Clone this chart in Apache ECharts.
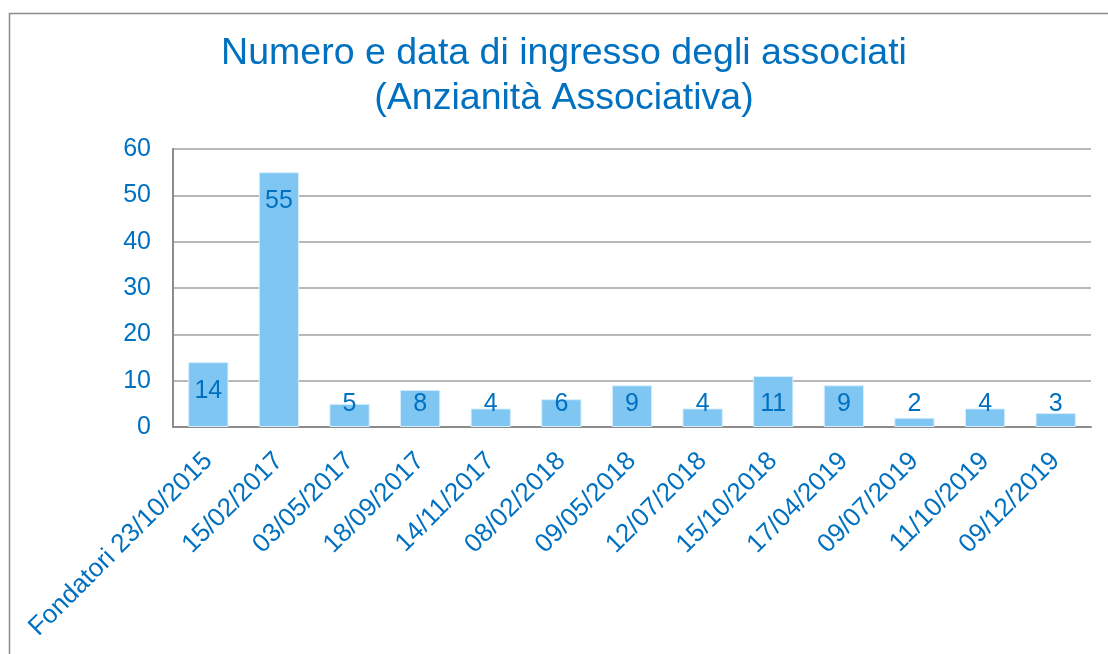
<!DOCTYPE html>
<html>
<head>
<meta charset="utf-8">
<script src="https://cdn.jsdelivr.net/npm/echarts@6/dist/echarts.min.js"></script>
<style>
html,body{margin:0;padding:0;background:#fff;}
#chart{width:1108px;height:654px;}
</style>
</head>
<body>
<div id="chart"></div>
<script>
const titleLines = ["Numero e data di ingresso degli associati", "(Anzianità Associativa)"];
const categories = ["Fondatori 23/10/2015","15/02/2017","03/05/2017","18/09/2017","14/11/2017","08/02/2018","09/05/2018","12/07/2018","15/10/2018","17/04/2019","09/07/2019","11/10/2019","09/12/2019"];
const values = [14, 55, 5, 8, 4, 6, 9, 4, 11, 9, 2, 4, 3];
const yTicks = [0, 10, 20, 30, 40, 50, 60];

const blue = '#0070C0';
const chart = echarts.init(document.getElementById('chart'));
const seriesData = values.map(v => ({
  value: v,
  label: v >= 12 ? { position: 'insideTop', distance: 16 } : { position: 'insideBottom', distance: 10 }
}));
chart.setOption({
  animation: false,
  textStyle: { fontFamily: 'Liberation Sans, Arial, sans-serif' },
  graphic: [{
    type: 'rect', left: 7, top: 11, shape: { width: 1200, height: 700 },
    style: { fill: 'none', stroke: '#8c8c8c', lineWidth: 1.5 }, silent: true, z: -1
  }],
  title: {
    text: titleLines.join('\n'),
    left: 564, textAlign: 'center', top: 31, padding: 0,
    textStyle: { color: blue, fontSize: 37.5, fontWeight: 'normal', lineHeight: 45, fontFamily: 'Liberation Sans, Arial, sans-serif' }
  },
  grid: { left: 173, right: 17, top: 149, bottom: 227, containLabel: false },
  xAxis: {
    type: 'category', data: categories,
    axisLine: { lineStyle: { color: '#8c8c8c', width: 2 } },
    axisTick: { show: false },
    axisLabel: { rotate: 45, color: blue, fontSize: 26, margin: 30, interval: 0 }
  },
  yAxis: {
    type: 'value', min: yTicks[0], max: yTicks[yTicks.length - 1], interval: 10,
    axisLine: { show: true, lineStyle: { color: '#8c8c8c', width: 2 } },
    axisTick: { show: false },
    axisLabel: { color: blue, fontSize: 25, margin: 22 },
    splitLine: { lineStyle: { color: '#a0a0a0', width: 1.5 } }
  },
  series: [{
    type: 'bar', data: seriesData, barWidth: '57%',
    itemStyle: { color: '#7FC6F3', borderColor: '#d6eefc', borderWidth: 1 },
    label: { show: true, color: blue, fontSize: 25 }
  }]
});
</script>
</body>
</html>
